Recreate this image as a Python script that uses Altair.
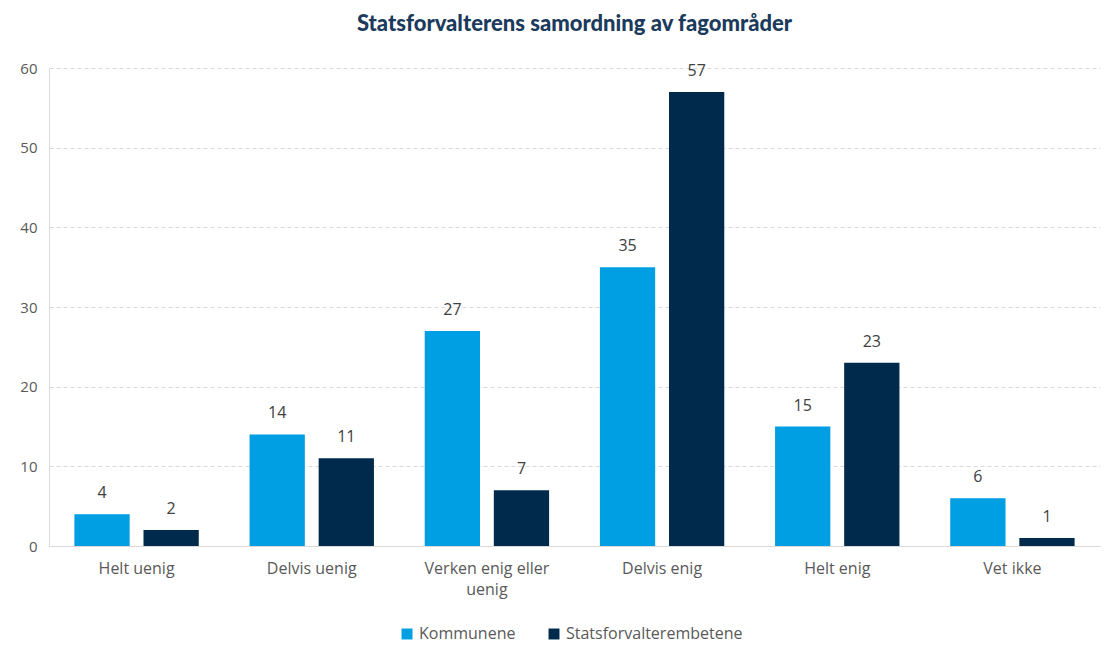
import altair as alt
import pandas as pd

categories = ["Helt uenig", "Delvis uenig", "Verken enig eller uenig", "Delvis enig", "Helt enig", "Vet ikke"]
series = ["Kommunene", "Statsforvalterembetene"]
kommunene = [4, 14, 27, 35, 15, 6]
statsforvalter = [2, 11, 7, 57, 23, 1]
colors = ["#009FE3", "#002A4C"]

rows = []
for c, a, b in zip(categories, kommunene, statsforvalter):
    rows.append({"kategori": c, "serie": series[0], "verdi": a})
    rows.append({"kategori": c, "serie": series[1], "verdi": b})
df = pd.DataFrame(rows)

FONT = "Open Sans"
TFONT = "Lato"

x = alt.X("kategori:N", sort=categories, title=None,
          scale=alt.Scale(paddingInner=0.29, paddingOuter=0.145),
          axis=alt.Axis(labelAngle=0, labelFontSize=16, labelColor="#595959", labelFont=FONT,
                        ticks=False, domainColor="#D9D9D9", labelPadding=14, labelLimit=220,
                        labelExpr="datum.label == 'Verken enig eller uenig' ? ['Verken enig eller', 'uenig'] : datum.label",
                        labelLineHeight=21))
xo = alt.XOffset("serie:N", sort=series, scale=alt.Scale(paddingInner=0.2))
y = alt.Y("verdi:Q", title=None,
          scale=alt.Scale(domain=[0, 60], nice=False),
          axis=alt.Axis(values=[0, 10, 20, 30, 40, 50, 60], labelFontSize=15, labelColor="#595959",
                        labelFont=FONT, ticks=False, domainColor="#D9D9D9", gridColor="#D9D9D9",
                        gridDash=[4, 3], labelPadding=12, minExtent=36, maxExtent=36))
color = alt.Color("serie:N", sort=series, scale=alt.Scale(domain=series, range=colors),
                  legend=alt.Legend(orient="none", legendX=350, legendY=558, direction="horizontal",
                                    title=None, symbolType="square", symbolSize=120, labelFontSize=16,
                                    labelColor="#595959", labelFont=FONT, columnPadding=30,
                                    labelLimit=400, symbolStrokeWidth=0))

base = alt.Chart(df).encode(x=x, xOffset=xo, y=y)
bars = base.mark_bar().encode(color=color)
labels = base.mark_text(dy=-21, fontSize=16, color="#404040", font=FONT).encode(text="verdi:Q")

chart = (bars + labels).properties(
    width=1051, height=478,
    title=alt.TitleParams("Statsforvalterens samordning av fagområder", fontSize=22, font=TFONT,
                          fontWeight=900, color="#1B3A5C", offset=25, anchor="middle")
).configure_view(stroke=None)

chart.save("out.html", embed_options={"renderer": "svg", "actions": False})
